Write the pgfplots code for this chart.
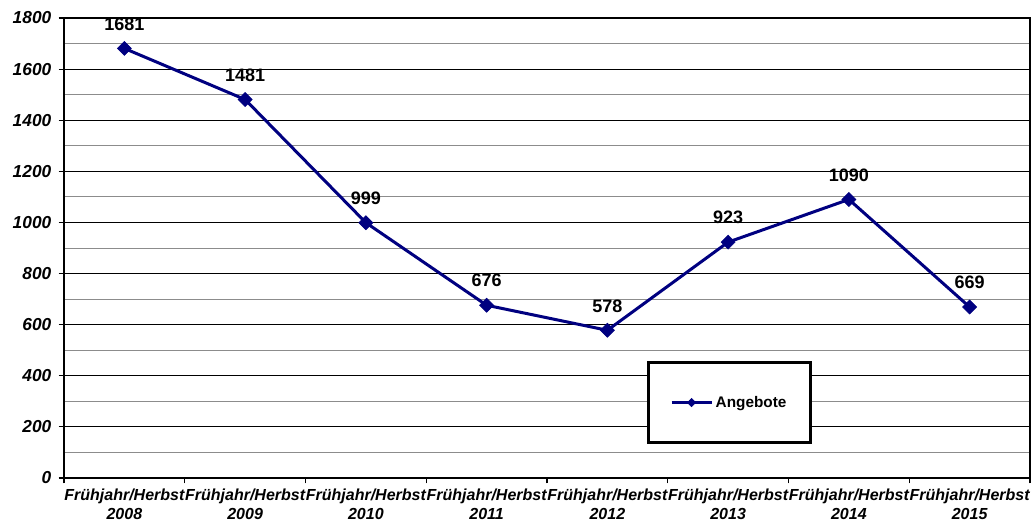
\documentclass[border=0pt]{standalone}
\usepackage{fontspec}
\setmainfont{Liberation Sans}
\usepackage{pgfplots}
\pgfplotsset{compat=1.18}
\definecolor{navyline}{RGB}{0,0,128}

\begin{document}
\begin{tikzpicture}
% page frame: 1035x526 px at 0.75pt/px, axis corner at (64,478) px
\useasboundingbox (-48pt,-36pt) rectangle (728.25pt,358.5pt);
\begin{axis}[
  at={(0pt,0pt)}, anchor=south west,
  scale only axis,
  width=724.5pt, height=345pt,
  xmin=-0.5, xmax=7.5,
  ymin=0, ymax=1800,
  xtick={0,...,7},
  xticklabels={Frühjahr/Herbst\\2008,Frühjahr/Herbst\\2009,Frühjahr/Herbst\\2010,Frühjahr/Herbst\\2011,
               Frühjahr/Herbst\\2012,Frühjahr/Herbst\\2013,Frühjahr/Herbst\\2014,Frühjahr/Herbst\\2015},
  minor xtick={-0.5,0.5,...,7.5},
  ytick={0,200,...,1800},
  minor ytick={100,300,...,1700},
  ymajorgrids, yminorgrids,
  major grid style={black, line width=0.6pt},
  minor grid style={black!45, line width=0.6pt},
  major x tick style={draw=none},
  minor y tick style={draw=none},
  tick align=outside,
  major tick length=4pt, minor tick length=4pt,
  xtick pos=bottom, ytick pos=left,
  axis line style={black, line width=0.9pt},
  tick style={black, line width=0.8pt},
  /pgf/number format/1000 sep={},
  /pgf/number format/assume math mode=true,
  tick label style={font=\fontsize{12}{14}\selectfont\bfseries\itshape},
  y tick label style={font=\fontsize{13}{15}\selectfont\bfseries\itshape, xshift=-2pt},
  x tick label style={align=center, yshift=-1pt},
  nodes near coords,
  every node near coord/.append style={font=\fontsize{13.5}{15}\selectfont\bfseries, anchor=south, yshift=10pt, black},
  legend style={at={(0.689,0.164)}, anchor=center, draw=black, line width=2.25pt,
    inner xsep=16pt, inner ysep=23pt, font=\fontsize{11.5}{13}\selectfont\bfseries},
  legend image code/.code={
    \draw[#1, line width=2.25pt, mark size=2.2pt, mark repeat=2, mark phase=2]
      plot coordinates {(0pt,0pt) (15pt,0pt) (30pt,0pt)};},
  clip=false,
]
\addplot[navyline, line width=2.25pt, mark=square*, mark size=3.7pt,
  mark options={rotate=45, solid, fill=navyline, line width=0.5pt}]
  coordinates {
  (0,1681) (1,1481) (2,999) (3,676) (4,578) (5,923) (6,1090) (7,669)
};
\addlegendentry{Angebote}
\end{axis}
\end{tikzpicture}
\end{document}
